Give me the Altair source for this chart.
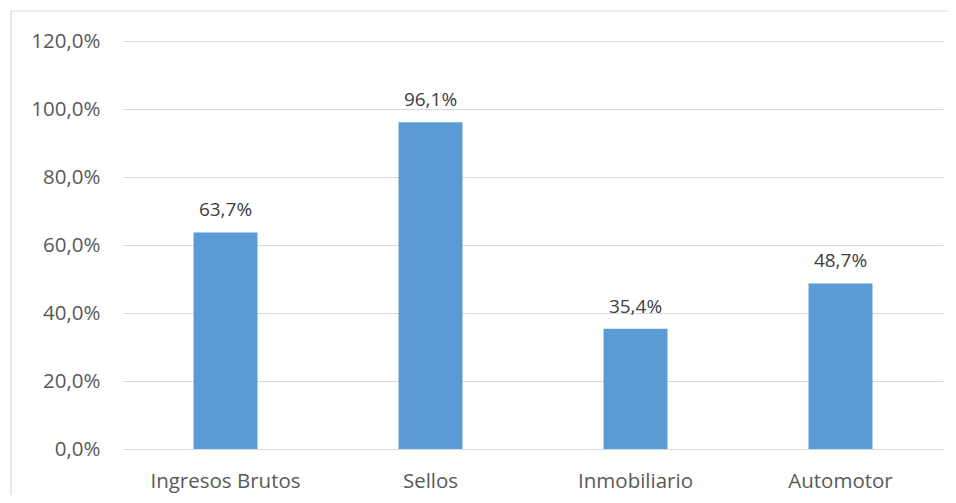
import altair as alt
import pandas as pd

categorias = ["Ingresos Brutos", "Sellos", "Inmobiliario", "Automotor"]
valores = [63.7, 96.1, 35.4, 48.7]
etiquetas = ["63,7%", "96,1%", "35,4%", "48,7%"]
ticks_y = [0, 20, 40, 60, 80, 100, 120]

df = pd.DataFrame({"cat": categorias, "val": valores, "lab": etiquetas})

FONT = "Open Sans"

x = alt.X("cat:N", sort=categorias, title=None,
          scale=alt.Scale(paddingInner=0.688, paddingOuter=0.344),
          axis=alt.Axis(labelAngle=0, ticks=False, domain=False, grid=False, labelFont=FONT,
                        labelFontSize=20.5, labelColor="#595959", labelPadding=38,
                        labelBaseline="alphabetic"))
y = alt.Y("val:Q", title=None,
          scale=alt.Scale(domain=[0, 120], nice=False),
          axis=alt.Axis(values=ticks_y, labelExpr="replace(format(datum.value, '.1f'), '.', ',') + '%'",
                        ticks=False, domain=False, labelFont=FONT, labelFontSize=20.5,
                        labelColor="#595959", labelPadding=23, gridColor="#D9D9D9",
                        gridWidth=1.2))

one = pd.DataFrame({"a": [1]})
border_top = alt.Chart(one).mark_rule(color="#D9D9D9", strokeWidth=1.2, clip=False).encode(
    x=alt.value(-112), x2=alt.value(825), y=alt.value(-30))
border_left = alt.Chart(one).mark_rule(color="#D9D9D9", strokeWidth=1.2, clip=False).encode(
    x=alt.value(-112), y=alt.value(-30), y2=alt.value(454))

bars = alt.Chart(df).mark_bar(color="#5B9BD5").encode(x=x, y=y)

text = alt.Chart(df).mark_text(
    font=FONT, fontSize=19, color="#404040", baseline="alphabetic", dy=-16
).encode(x=x, y=y, text="lab:N")

chart = alt.layer(border_top, border_left, bars, text).properties(
    width=820, height=408,
    background="white",
    autosize=alt.AutoSizeParams(type="none"),
    padding={"left": 115, "top": 33, "right": 5, "bottom": 46},
).configure_view(stroke="transparent", strokeWidth=0)

chart.save("out.html", embed_options={"renderer": "svg", "actions": False})
